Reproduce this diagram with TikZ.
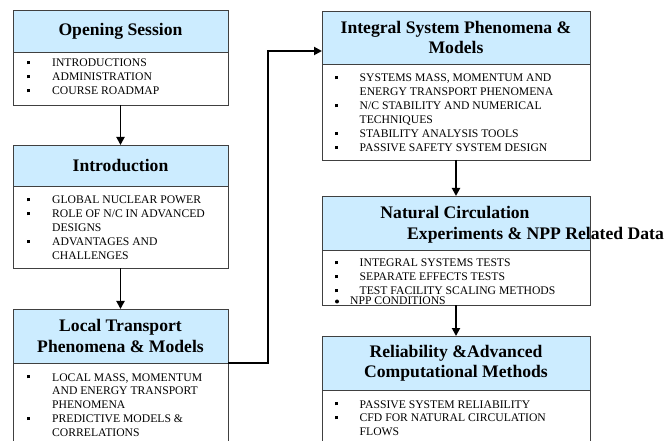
\documentclass[tikz,border=0pt]{standalone}
\usepackage{fontspec}
\setmainfont{Liberation Serif}
\usetikzlibrary{arrows.meta,shadows}
\definecolor{hdrblue}{RGB}{204,236,255}
\newcommand\bq{\makebox[25bp][l]{\rule[2.6bp]{3.2bp}{3.2bp}}}
\newcommand\cq{\hspace*{25bp}}
\begin{document}
\begin{tikzpicture}[x=1bp,y=-1bp,
 boxshadow/.style={drop shadow={shadow xshift=1.2bp, shadow yshift=-1.2bp, fill=black, opacity=1}},
 hdr/.style={draw=black!75, line width=0.8bp, fill=hdrblue, inner sep=0pt, outer sep=0pt, anchor=north west, align=center, font=\fontsize{17.7}{20.5}\selectfont\bfseries, boxshadow},
 bodybox/.style={draw=black!75, line width=0.8bp, fill=white, inner sep=0pt, outer sep=0pt, anchor=north west, boxshadow},
 items/.style={anchor=base west, inner sep=0pt, font=\fontsize{11.7}{14}\selectfont},
 htext/.style={inner sep=0pt, font=\fontsize{17.7}{20.5}\selectfont\bfseries},
 link/.style={line width=1.9bp, -{Triangle[length=8bp,width=8bp]}},
]
\useasboundingbox (0,0) rectangle (667,441);
\clip (0,0) rectangle (667,441);

% left column
\node[hdr, minimum width=215bp, minimum height=42bp] (open-h) at (13,10) {Opening Session};
\node[bodybox, minimum width=215bp, minimum height=53bp] (open-b) at (13,52) {};
\node[items] (open-t) at (27,67) {\begin{tabular}[t]{@{}l@{}}\bq INTRODUCTIONS\\ \bq ADMINISTRATION\\ \bq COURSE ROADMAP\end{tabular}};

\node[hdr, minimum width=215bp, minimum height=41bp] (intro-h) at (13,145) {Introduction};
\node[bodybox, minimum width=215bp, minimum height=82bp] (intro-b) at (13,186) {};
\node[items] (intro-t) at (27,204) {\begin{tabular}[t]{@{}l@{}}\bq GLOBAL NUCLEAR POWER\\ \bq ROLE OF N/C IN ADVANCED\\ \cq DESIGNS\\ \bq ADVANTAGES AND\\ \cq CHALLENGES\end{tabular}};

\node[hdr, minimum width=215bp, minimum height=54bp] (local-h) at (13,309) {Local Transport\\Phenomena \& Models};
\node[bodybox, minimum width=215bp, minimum height=95bp] (local-b) at (13,363) {};
\node[items] (local-t) at (27,381) {\begin{tabular}[t]{@{}l@{}}\bq LOCAL MASS, MOMENTUM\\ \cq AND ENERGY TRANSPORT\\ \cq PHENOMENA\\ \bq PREDICTIVE MODELS \&\\ \cq CORRELATIONS\end{tabular}};

% right column
\node[hdr, minimum width=268bp, minimum height=53bp] (integ-h) at (322,11) {Integral System Phenomena \&\\Models};
\node[bodybox, minimum width=268bp, minimum height=96bp] (integ-b) at (322,64) {};
\node[items] (integ-t) at (334.5,82) {\begin{tabular}[t]{@{}l@{}}\bq SYSTEMS MASS, MOMENTUM AND\\ \cq ENERGY TRANSPORT PHENOMENA\\ \bq N/C STABILITY AND NUMERICAL\\ \cq TECHNIQUES\\ \bq STABILITY ANALYSIS TOOLS\\ \bq PASSIVE SAFETY SYSTEM DESIGN\end{tabular}};

\node[hdr, minimum width=268bp, minimum height=54bp] (nat-h) at (322,196) {};
\node[bodybox, minimum width=268bp, minimum height=55bp] (nat-b) at (322,250) {};
\node[htext, anchor=base] (nat-t1) at (455,219) {Natural Circulation};
\node[htext, anchor=base west] (nat-t2) at (407,240) {Experiments \& NPP Related Data};
\node[items] (nat-t) at (334.5,267) {\begin{tabular}[t]{@{}l@{}}\bq INTEGRAL SYSTEMS TESTS\\ \bq SEPARATE EFFECTS TESTS\\ \bq TEST FACILITY SCALING METHODS\end{tabular}};
\fill (337,301.5) circle[radius=2bp];
\node[items] (nat-npp) at (350,305) {NPP CONDITIONS};

\node[hdr, minimum width=268bp, minimum height=54bp] (rel-h) at (322,336) {Reliability \&Advanced\\Computational Methods};
\node[bodybox, minimum width=268bp, minimum height=65bp] (rel-b) at (322,390) {};
\node[items] (rel-t) at (334.5,408) {\begin{tabular}[t]{@{}l@{}}\bq PASSIVE SYSTEM RELIABILITY\\ \bq CFD FOR NATURAL CIRCULATION\\ \cq FLOWS\end{tabular}};

% connectors
\draw[link] (open-b.south) -- (intro-h.north);
\draw[link] (intro-b.south) -- (local-h.north);
\draw[link] (integ-b.south) -- (nat-h.north);
\draw[link] (nat-b.south) -- (rel-h.north);
\coordinate (jog) at (268,51);
\draw[link] (local-h.south east) -| (jog) -- (integ-h.west |- jog);
\end{tikzpicture}
\end{document}
